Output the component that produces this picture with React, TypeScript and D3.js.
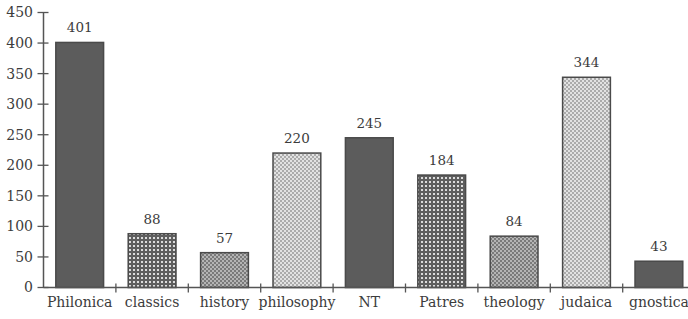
import { useEffect, useRef } from "react"
import * as d3 from "d3"

const categories = ["Philonica", "classics", "history", "philosophy", "NT", "Patres", "theology", "judaica", "gnostica"]
const counts = [401, 88, 57, 220, 245, 184, 84, 344, 43]
const fills = ["dark", "dots", "check", "light", "dark", "dots", "check", "light", "dark"]
const yTicks = [0, 50, 100, 150, 200, 250, 300, 350, 400, 450]

export default function App() {
  const svgRef = useRef<SVGSVGElement>(null)

  useEffect(() => {
    document.body.style.margin = "0"
    if (!svgRef.current) return
    const svg = d3.select(svgRef.current)
    svg.selectAll("*").remove()

    const width = 688
    const height = 319
    const font = "'DejaVu Serif'"
    const ink = "#3c3c3c"

    // fill patterns
    const defs = svg.append("defs")
    const dots = defs.append("pattern").attr("id", "dots").attr("width", 4).attr("height", 4).attr("patternUnits", "userSpaceOnUse")
    dots.append("rect").attr("width", 4).attr("height", 4).attr("fill", "#5e5e5e")
    dots.append("rect").attr("x", 1).attr("y", 1).attr("width", 2).attr("height", 2).attr("fill", "#dcdcdc")

    const check = defs.append("pattern").attr("id", "check").attr("width", 4).attr("height", 4).attr("patternUnits", "userSpaceOnUse")
    check.append("rect").attr("width", 4).attr("height", 4).attr("fill", "#b4b4b4")
    check.append("rect").attr("width", 2).attr("height", 2).attr("fill", "#7a7a7a")
    check.append("rect").attr("x", 2).attr("y", 2).attr("width", 2).attr("height", 2).attr("fill", "#7a7a7a")

    const light = defs.append("pattern").attr("id", "light").attr("width", 4).attr("height", 4).attr("patternUnits", "userSpaceOnUse")
    light.append("rect").attr("width", 4).attr("height", 4).attr("fill", "#e2e2e2")
    light.append("rect").attr("width", 2).attr("height", 2).attr("fill", "#ababab")
    light.append("rect").attr("x", 2).attr("y", 2).attr("width", 2).attr("height", 2).attr("fill", "#ababab")

    const x0 = 43.5
    const y = d3.scaleLinear().domain([0, 450]).range([287.5, 12.5])
    const x = d3.scaleBand().domain(categories).range([x0, x0 + 9 * 72.4]).padding(0)
    const bw = x.bandwidth()

    const data = categories.map((c, i) => ({ name: c, value: counts[i], fill: fills[i] }))

    // bars
    svg.append("g")
      .selectAll("rect")
      .data(data)
      .enter()
      .append("rect")
      .attr("x", (d) => x(d.name)! + bw * 0.17)
      .attr("y", (d) => y(d.value))
      .attr("width", bw * 0.66)
      .attr("height", (d) => y(0) - y(d.value))
      .attr("fill", (d) => (d.fill === "dark" ? "#5c5c5c" : `url(#${d.fill})`))
      .attr("stroke", "#4a4a4a")
      .attr("stroke-width", 1.5)

    // value labels
    svg.append("g")
      .selectAll("text")
      .data(data)
      .enter()
      .append("text")
      .attr("x", (d) => x(d.name)! + bw / 2)
      .attr("y", (d) => y(d.value) - 10)
      .attr("text-anchor", "middle")
      .style("font-family", font)
      .attr("font-size", "13.5px")
      .attr("fill", ink)
      .text((d) => d.value)

    // y axis
    const ya = svg.append("g")
    ya.append("line")
      .attr("x1", x0).attr("x2", x0)
      .attr("y1", y(0)).attr("y2", y(450))
      .attr("stroke", "#555").attr("stroke-width", 1.5)
    ya.selectAll("line.tick")
      .data(yTicks)
      .enter()
      .append("line")
      .attr("class", "tick")
      .attr("x1", x0 - 6).attr("x2", x0 + 5)
      .attr("y1", (d) => y(d)).attr("y2", (d) => y(d))
      .attr("stroke", "#555").attr("stroke-width", 1.3)
    ya.selectAll("text")
      .data(yTicks)
      .enter()
      .append("text")
      .attr("x", 33)
      .attr("y", (d) => y(d))
      .attr("dy", "0.35em")
      .attr("text-anchor", "end")
      .style("font-family", font)
      .attr("font-size", "14px")
      .attr("fill", ink)
      .text((d) => d)

    // x axis
    const xa = svg.append("g")
    xa.append("line")
      .attr("x1", x0).attr("x2", width)
      .attr("y1", y(0)).attr("y2", y(0))
      .attr("stroke", "#555").attr("stroke-width", 1.5)
    xa.selectAll("line.tick")
      .data(categories.slice(1))
      .enter()
      .append("line")
      .attr("class", "tick")
      .attr("x1", (d) => x(d)!).attr("x2", (d) => x(d)!)
      .attr("y1", y(0) - 4).attr("y2", y(0) + 5)
      .attr("stroke", "#555").attr("stroke-width", 1.3)
    xa.selectAll("text")
      .data(categories)
      .enter()
      .append("text")
      .attr("x", (d) => x(d)! + bw / 2)
      .attr("y", 307)
      .attr("text-anchor", "middle")
      .style("font-family", font)
      .attr("font-size", "14px")
      .attr("fill", ink)
      .text((d) => d)

    svg.attr("width", width).attr("height", height).attr("viewBox", [0, 0, width, height].join(" "))
  }, [])

  return (
    <div style={{ width: 688, height: 319, background: "#fff" }}>
      <svg ref={svgRef} style={{ display: "block" }}></svg>
    </div>
  )
}
